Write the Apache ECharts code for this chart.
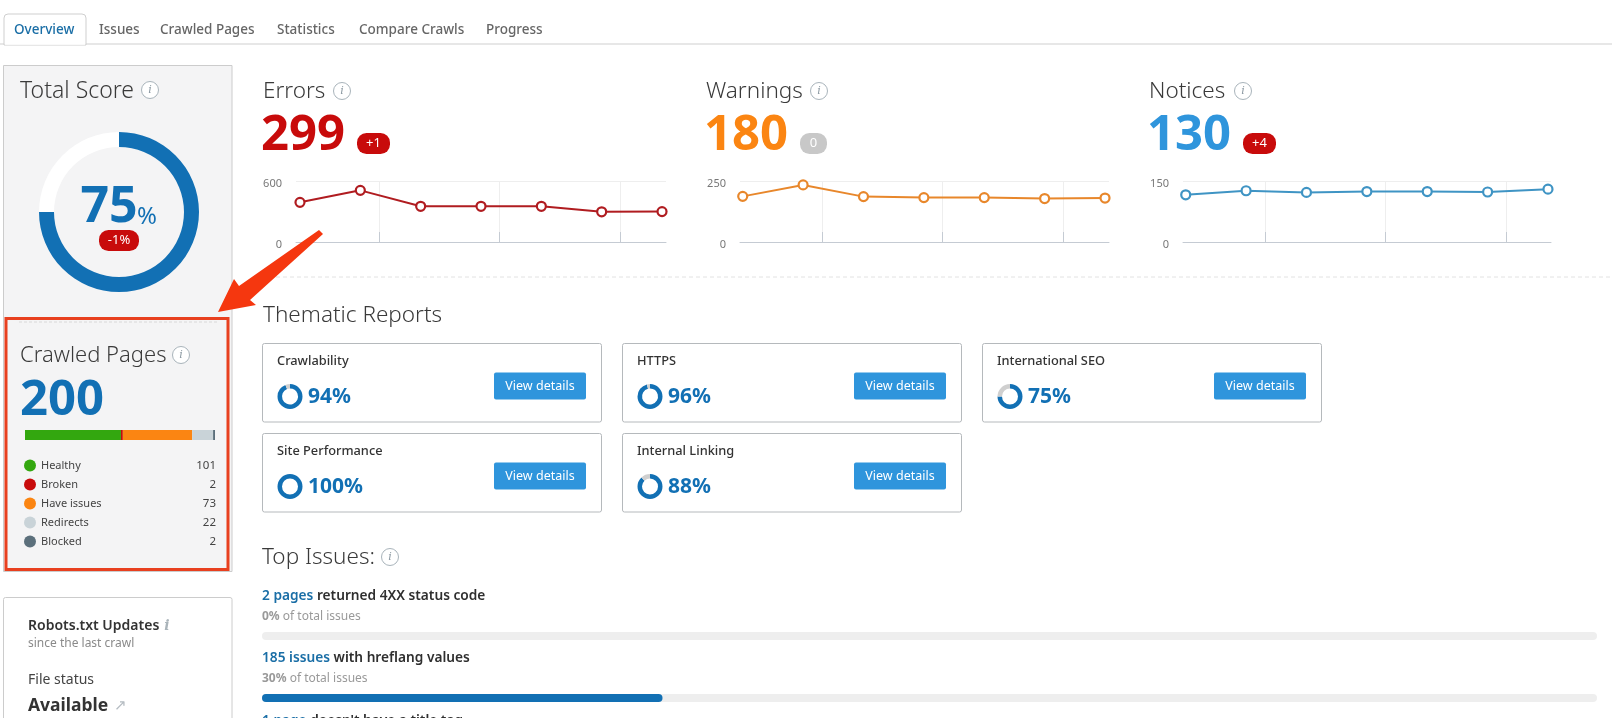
<!DOCTYPE html>
<html>
<head>
<meta charset="utf-8">
<title>Site Audit Overview</title>
<style>
  html, body { margin: 0; padding: 0; background: #fff; }
  #myChart { width: 1612px; height: 718px; }
</style>
<script src="https://cdn.jsdelivr.net/npm/echarts@6/dist/echarts.min.js"></script>
</head>
<body>
<div id="myChart"></div>
<script>
// values
var tabLabels = ['Overview', 'Issues', 'Crawled Pages', 'Statistics', 'Compare Crawls', 'Progress'];
var totalScore = 75;
var crawlIndex = [0, 1, 2, 3, 4, 5, 6];
var gridTicks = [1.31, 3.31, 5.31];
var errorsValues = [390, 508, 351, 351, 351, 297, 299];
var warningsValues = [187, 234, 186, 182, 182, 178, 180];
var noticesValues = [116, 126, 122, 124, 124, 123, 130];
var crawledLabels = ['Healthy', 'Broken', 'Have issues', 'Redirects', 'Blocked'];
var crawledValues = [101, 2, 73, 22, 2];
var crawledColors = ['#33a70f', '#c80b0b', '#fb8512', '#c9d3d8', '#5b6f7b'];
var reportLabels = ['Crawlability', 'HTTPS', 'International SEO', 'Site Performance', 'Internal Linking'];
var reportValues = [94, 96, 75, 100, 88];
var issueShares = [0, 30];

var FONT = '"Noto Sans", sans-serif';
var BLUE = '#1270b4';
var graphics = [];

function text(x, y, str, size, color, opt) {
  opt = opt || {};
  graphics.push({
    type: 'text', x: x, y: y, z: opt.z || 5,
    style: {
      text: str, fill: color, rich: opt.rich,
      font: (opt.weight || 400) + ' ' + size + 'px ' + FONT,
      align: opt.align || 'left', verticalAlign: 'middle'
    }
  });
}
function box(x, y, w, h, fill, stroke, r, lw) {
  graphics.push({
    type: 'rect', z: 1,
    shape: { x: x, y: y, width: w, height: h, r: r || 0 },
    style: { fill: fill, stroke: stroke, lineWidth: lw || 1 }
  });
}
function infoIcon(x, y) {
  graphics.push({
    type: 'circle', z: 2, shape: { cx: x, cy: y, r: 8.5 },
    style: { fill: '#fff', stroke: '#a9b4bb', lineWidth: 1 }
  });
  graphics.push({
    type: 'text', x: x, y: y, z: 3,
    style: { text: 'i', fill: '#8d9aa3', font: 'italic 400 11px "DejaVu Serif", serif', align: 'center', verticalAlign: 'middle' }
  });
}
function badge(x, y, w, h, str, color) {
  box(x, y, w, h, color, null, h / 2 - 1);
  text(x + w / 2, y + h / 2, str, 13, '#fff', { align: 'center' });
}

// tabs
graphics.push({ type: 'line', z: 1, shape: { x1: 0, y1: 44, x2: 1612, y2: 44 }, style: { stroke: '#cfcfcf', lineWidth: 1 } });
box(4, 14, 82, 31, '#fff', '#cfcfcf', [4, 4, 0, 0]);
graphics.push({ type: 'line', z: 2, shape: { x1: 5, y1: 44, x2: 85, y2: 44 }, style: { stroke: '#fff', lineWidth: 1.5 } });
var tabX = [14, 99, 160, 277, 359, 486];
tabLabels.forEach(function (t, i) {
  text(tabX[i], 30, t, 13.5, i === 0 ? '#1a6ea6' : '#666', { weight: 500 });
});

// left panels
box(3.5, 65.5, 228.5, 506, '#f4f4f5', '#cccccc');
box(3.5, 597.5, 228.5, 140, '#fff', '#cccccc', 2);
text(20, 91, 'Total Score', 23, '#3a3a3a', { weight: 300 });
infoIcon(150, 90);
text(109, 208, String(totalScore), 50, BLUE, { weight: 700, align: 'center' });
text(147, 217, '%', 24, BLUE, { align: 'center' });
badge(99, 230, 40, 21, '-1%', '#c80b0b');

graphics.push({ type: 'line', z: 2, shape: { x1: 19, y1: 322, x2: 218, y2: 322 }, style: { stroke: '#d8d8d8', lineDash: [3, 2] } });
box(6, 318.5, 222, 251, null, '#e8401f', 0, 3);
text(20, 356, 'Crawled Pages', 22, '#3a3a3a', { weight: 300 });
infoIcon(181, 355);
text(20, 401, '200', 49, BLUE, { weight: 700 });
crawledLabels.forEach(function (label, i) {
  var y = 465.5 + i * 19;
  graphics.push({ type: 'circle', z: 2, shape: { cx: 30, cy: y, r: 6 }, style: { fill: crawledColors[i] } });
  text(41, y, label, 11, '#444');
  text(216, y, String(crawledValues[i]), 11.5, '#444', { align: 'right' });
});

text(28, 626, 'Robots.txt Updates', 14, '#333', { weight: 600 });
graphics.push({
  type: 'text', x: 167, y: 626, z: 3,
  style: { text: 'i', fill: '#aab4ba', font: 'italic 700 14px "DejaVu Serif", serif', align: 'center', verticalAlign: 'middle' }
});
text(28, 644, 'since the last crawl', 12, '#8a8a8a');
text(28, 680, 'File status', 14, '#444');
text(28, 706, 'Available', 17.5, '#333', { weight: 700 });
text(120, 706, '\u2197', 15, '#b5bcc2', { align: 'center' });

// the three trend blocks
var trends = [
  { title: 'Errors', total: '299', color: '#c80b0b', line: '#b01c20', values: errorsValues, yMax: 600,
    tx: 263, icon: 342, delta: '+1', bx: 357, bw: 33, bc: '#c80b0b', left: 296, right: 666, xMin: -0.066, xMax: 6.066 },
  { title: 'Warnings', total: '180', color: '#fb8512', line: '#e8872b', values: warningsValues, yMax: 250,
    tx: 706, icon: 819, delta: '0', bx: 800, bw: 27, bc: '#c8c8c8', left: 740, right: 1109, xMin: -0.045, xMax: 6.066 },
  { title: 'Notices', total: '130', color: '#2f95dc', line: '#3f94c4', values: noticesValues, yMax: 150,
    tx: 1149, icon: 1243, delta: '+4', bx: 1243, bw: 33, bc: '#c80b0b', left: 1183, right: 1551, xMin: -0.045, xMax: 6.05 }
];
var grids = [], xAxes = [], yAxes = [], series = [];
trends.forEach(function (t, i) {
  text(t.tx, 92, t.title, 22.5, '#3a3a3a', { weight: 300 });
  infoIcon(t.icon, 91);
  text(t.tx - 2, 136, t.total, 49, t.color, { weight: 700 });
  badge(t.bx, 133, t.bw, 21, t.delta, t.bc);
  grids.push({ left: t.left, width: t.right - t.left, top: 181, height: 61 });
  xAxes.push({
    type: 'value', gridIndex: i, min: t.xMin, max: t.xMax,
    axisLine: { lineStyle: { color: '#c5cbd3' } },
    axisLabel: { show: false },
    axisTick: { inside: true, length: 10, lineStyle: { color: '#c5cbd3' }, customValues: gridTicks },
    splitLine: { show: true, lineStyle: { color: '#eeeeee' } }
  });
  yAxes.push({
    type: 'value', gridIndex: i, min: 0, max: t.yMax, interval: t.yMax,
    axisLine: { show: false }, axisTick: { show: false },
    axisLabel: { margin: 14, color: '#777', fontSize: 11, fontFamily: FONT, verticalAlign: 'top', lineHeight: 6 },
    splitLine: { lineStyle: { color: '#eeeeee' } }
  });
  series.push({
    type: 'line', xAxisIndex: i, yAxisIndex: i, silent: true, animation: false,
    data: crawlIndex.map(function (x, k) { return [x, t.values[k]]; }),
    symbol: 'circle', symbolSize: 9, showSymbol: true,
    lineStyle: { color: t.line, width: 2 },
    itemStyle: { color: '#fff', borderColor: t.line, borderWidth: 2.2 }
  });
});

graphics.push({ type: 'line', z: 1, shape: { x1: 262, y1: 277, x2: 1612, y2: 277 }, style: { stroke: '#e2e2e2', lineDash: [4, 3] } });

// total score ring
series.push({
  type: 'pie', silent: true, animation: false, center: [119, 212], radius: [65, 80], label: { show: false },
  data: [{ value: totalScore, itemStyle: { color: BLUE } }, { value: 100 - totalScore, itemStyle: { color: '#fff' } }]
});

// crawled pages stacked bar
grids.push({ left: 25, width: 190, top: 430, height: 10 });
xAxes.push({ type: 'value', gridIndex: 3, min: 0, max: 200, show: false });
yAxes.push({ type: 'category', gridIndex: 3, data: ['pages'], show: false });
crawledLabels.forEach(function (label, i) {
  series.push({
    type: 'bar', name: label, stack: 'crawled', xAxisIndex: 3, yAxisIndex: 3, silent: true, animation: false,
    barWidth: 10, data: [crawledValues[i]], itemStyle: { color: crawledColors[i] }
  });
});

// thematic reports
text(263, 316, 'Thematic Reports', 22.5, '#3a3a3a', { weight: 300 });
var cardX = [262, 622, 982, 262, 622];
var cardY = [343.5, 343.5, 343.5, 433.5, 433.5];
reportLabels.forEach(function (label, i) {
  var x = cardX[i], y = cardY[i];
  box(x + 0.5, y, 339, 78.5, '#fff', '#b5b9bc', 2);
  text(x + 15, y + 18, label, 12.8, '#333', { weight: 500 });
  text(x + 46, y + 54, reportValues[i] + '%', 21, BLUE, { weight: 700 });
  box(x + 232, y + 29, 92, 27, '#2f95dc', null, 2);
  text(x + 278, y + 42.5, 'View details', 12.5, '#fff', { align: 'center' });
  series.push({
    type: 'pie', silent: true, animation: false, center: [x + 28, y + 53], radius: [8, 12.5], label: { show: false },
    data: [{ value: reportValues[i], itemStyle: { color: BLUE } }, { value: 100 - reportValues[i], itemStyle: { color: '#cfcfcf' } }]
  });
});

// top issues
text(262, 558, 'Top Issues:', 22.5, '#3a3a3a', { weight: 300 });
infoIcon(390, 557);
var issueLead = ['2 pages', '185 issues', '1 page'];
var issueRest = ['returned 4XX status code', 'with hreflang values', "doesn't have a title tag"];
var issueY = [596, 658, 721];
var richIssue = {
  a: { fill: '#1a6ea6', font: '600 13.7px ' + FONT },
  b: { fill: '#2f2f2f', font: '600 13.7px ' + FONT },
  c: { fill: '#999', font: '700 12px ' + FONT },
  d: { fill: '#999', font: '400 12px ' + FONT }
};
issueLead.forEach(function (lead, i) {
  text(262, issueY[i], '{a|' + lead + '} {b|' + issueRest[i] + '}', 14, '#333', { rich: richIssue });
  if (i < issueShares.length) {
    text(262, issueY[i] + 21, '{c|' + issueShares[i] + '%} {d|of total issues}', 12, '#999', { rich: richIssue });
    var g = grids.length;
    grids.push({ left: 262, width: 1335, top: issueY[i] + 36, height: 8 });
    xAxes.push({ type: 'value', gridIndex: g, min: 0, max: 100, show: false });
    yAxes.push({ type: 'category', gridIndex: g, data: [lead], show: false });
    series.push({
      type: 'bar', xAxisIndex: g, yAxisIndex: g, silent: true, animation: false, barWidth: 8,
      data: [issueShares[i]], showBackground: true,
      backgroundStyle: { color: '#eeeeee', borderRadius: 4 },
      itemStyle: { color: BLUE, borderRadius: 4 }
    });
  }
});

// red arrow pointing at the crawled pages box
graphics.push({
  type: 'polygon', z: 100,
  shape: { points: [[319, 230], [323, 234], [250, 300], [256, 305], [218, 312], [234, 279], [239, 286]] },
  style: { fill: '#f5370f' }
});

var myChart = echarts.init(document.getElementById('myChart'));
myChart.setOption({
  backgroundColor: '#fff',
  animation: false,
  textStyle: { fontFamily: FONT },
  grid: grids,
  xAxis: xAxes,
  yAxis: yAxes,
  series: series,
  graphic: { elements: graphics }
});
</script>
</body>
</html>
